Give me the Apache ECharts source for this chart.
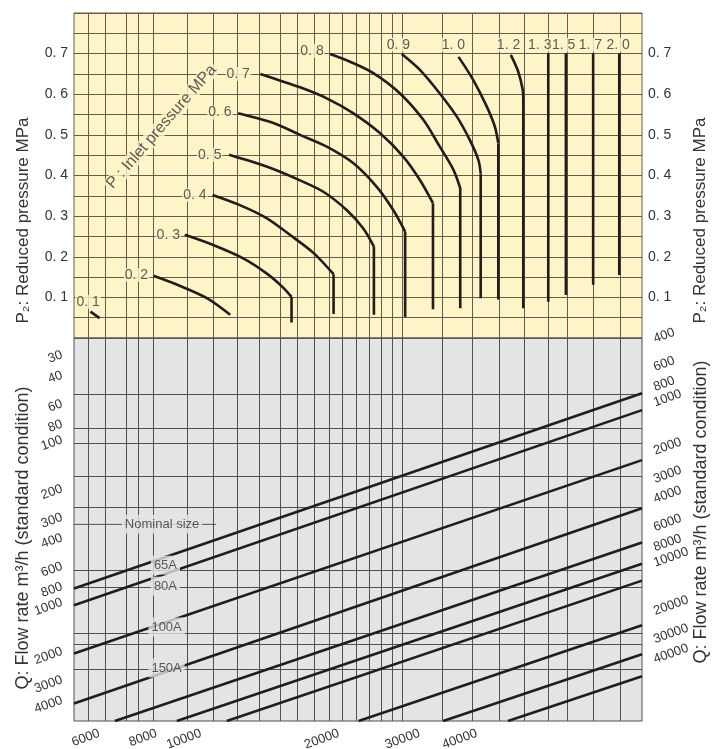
<!DOCTYPE html>
<html>
<head>
<meta charset="utf-8">
<script src="https://cdn.jsdelivr.net/npm/echarts@6.0.0/dist/echarts.min.js"></script>
<style>
    html, body {margin: 0; padding: 0; background: #fff;}
    #chart_container {width: 713px; height: 749px;}
</style>
</head>
<body>
<div id="chart_container"></div>
<script>
"use strict";

// ---- upper chart: P2 (reduced pressure) against an unlabelled flow factor (0..100) ----
var p2Ticks = [0.1, 0.2, 0.3, 0.4, 0.5, 0.6, 0.7];
// vertical grid lines, in flow factor units
var factorLines = [2.5, 5.5, 9.2, 11.3, 13.9, 19.9, 24.5, 28.7, 32.6, 36.3, 39.3, 42.3, 44.9, 47.2,
    49.7, 51.9, 54.1, 56.0, 57.8, 64.8, 70.1, 74.8, 79.2, 83.5, 86.8, 91.4, 96.1];

// one curve per inlet pressure P1: [flow factor, P2]
var inletNames = ['0. 1', '0. 2', '0. 3', '0. 4', '0. 5', '0. 6', '0. 7', '0. 8', '0. 9', '1. 0',
    '1. 2', '1. 3', '1. 5', '1. 7', '2. 0'];
var arc01 = [[2.9, 0.065], [4.5, 0.049]];
var arc02 = [[14.0, 0.153], [18.7, 0.128], [23.4, 0.098], [27.5, 0.057]];
var arc03 = [[19.5, 0.254], [24.5, 0.229], [29.8, 0.196], [33.9, 0.159], [36.6, 0.127], [38.3, 0.101]];
var arc04 = [[24.4, 0.352], [29.2, 0.327], [33.9, 0.295], [38.0, 0.254], [42.2, 0.209], [45.7, 0.157]];
var arc05 = [[27.3, 0.451], [33.9, 0.422], [39.8, 0.388], [43.9, 0.360], [48.0, 0.315], [50.9, 0.270], [52.8, 0.225]];
var arc06 = [[28.9, 0.553], [35.1, 0.529], [39.8, 0.500], [44.5, 0.471], [49.2, 0.430], [53.3, 0.372], [56.2, 0.315], [58.3, 0.262]];
var arc07 = [[32.8, 0.650], [39.8, 0.617], [44.5, 0.590], [49.2, 0.553], [53.9, 0.504], [58.0, 0.446], [60.9, 0.389], [63.2, 0.332]];
var arc08 = [[45.1, 0.699], [48.6, 0.680], [52.7, 0.652], [57.4, 0.602], [61.5, 0.537], [64.4, 0.471], [66.8, 0.414], [68.0, 0.369]];
var arc09 = [[57.7, 0.699], [60.9, 0.660], [64.4, 0.602], [67.4, 0.545], [69.7, 0.487], [71.2, 0.438], [71.6, 0.405]];
var arc10 = [[67.7, 0.692], [70.3, 0.635], [72.7, 0.569], [74.1, 0.520], [74.7, 0.479]];
var arc12 = [[76.9, 0.697], [78.2, 0.656], [79.0, 0.611], [79.1, 0.586]];
var arc13 = [[83.5, 0.701]];
var arc15 = [[86.6, 0.701]];
var arc17 = [[91.4, 0.701]];
var arc20 = [[96.0, 0.701]];
var arcs = [arc01, arc02, arc03, arc04, arc05, arc06, arc07, arc08, arc09, arc10, arc12, arc13, arc15, arc17, arc20];
// P2 where the vertical (choked) part of each curve ends
var tailEnd = [null, null, 0.038, 0.059, 0.057, 0.052, 0.071, 0.073, 0.098, 0.095, 0.073, 0.089, 0.106, 0.131, 0.155];
// where the P1 labels sit
var inletLabelPos = [[2.5, 0.089], [11.0, 0.155], [16.6, 0.254], [21.3, 0.352], [23.9, 0.451], [25.7, 0.555],
    [28.9, 0.650], [41.9, 0.707], [57.1, 0.722], [66.8, 0.722], [76.5, 0.722], [82.0, 0.722], [86.2, 0.722],
    [90.9, 0.722], [95.8, 0.722]];

// ---- lower chart: flow rate Q (oblique log scale) ----
var qLeftTicks = [30, 40, 60, 80, 100, 200, 300, 400, 600, 800, 1000, 2000, 3000, 4000];
var qRightTicks = [400, 600, 800, 1000, 2000, 3000, 4000, 6000, 8000, 10000, 20000, 30000, 40000];
var qBottomTicks = [6000, 8000, 10000, 20000, 30000, 40000];
// horizontal grid lines, read on the left Q scale
var qGridLines = [53, 85, 105, 168, 261, 637, 811, 1557, 1819, 2593];
// nominal size lines: [start, end] as [flow factor, Q on left scale]
var sizeLines = [
    [[0, 826], [100, 52]],
    [[0, 1047], [100, 66]],
    [[0, 2076], [100, 134]],
    [[0, 4217], [100, 265]],
    [[7.2, 5400], [100, 431]],
    [[18.1, 5400], [100, 581]],
    [[26.9, 5400], [100, 739]],
    [[50.1, 5400], [100, 1390]],
    [[65.0, 5400], [100, 2096]],
    [[76.4, 5400], [100, 2864]]
];
var sizeNames = ['Nominal size', '65A', '80A', '100A', '150A'];
var sizeLabelPos = [[15.5, 333], [16.1, 594], [16.1, 799], [16.3, 1424], [16.3, 2546]];

var yellow = '#fdf5c8', grey = '#e4e4e4', ink = '#221d18', txt = '#333333';
var topGridColor = '#655c4c', lowGridColor = '#505050';

var myChart = echarts.init(document.getElementById('chart_container'));

var series = [];
for (var i = 0; i < arcs.length; i++) {
    var arc = arcs[i];
    if (arc.length > 1) {
        series.push({
            type: 'line', xAxisIndex: 0, yAxisIndex: 0, data: arc, smooth: 0.3,
            symbol: 'none', silent: true, z: 3,
            lineStyle: {color: ink, width: 2.6}
        });
    }
    if (tailEnd[i] !== null) {
        var last = arc[arc.length - 1];
        series.push({
            type: 'line', xAxisIndex: 0, yAxisIndex: 0, data: [last, [last[0], tailEnd[i]]],
            symbol: 'none', silent: true, z: 3,
            lineStyle: {color: ink, width: 2.6}
        });
    }
}
series.push({
    type: 'scatter', xAxisIndex: 0, yAxisIndex: 0, symbolSize: 0, z: 5, silent: true,
    data: inletLabelPos,
    label: {
        show: true, position: 'inside', color: txt, fontSize: 14,
        backgroundColor: yellow, padding: [0, 1],
        formatter: function (p) {
            return inletNames[p.dataIndex];
        }
    }
});
series.push({
    type: 'scatter', xAxisIndex: 0, yAxisIndex: 0, symbolSize: 0, z: 5, silent: true,
    data: [[15.4, 0.52]],
    label: {
        show: true, position: 'inside', color: txt, fontSize: 16, rotate: 49,
        backgroundColor: yellow, padding: [0, 2],
        formatter: 'P : Inlet pressure MPa'
    }
});

for (var k = 0; k < sizeLines.length; k++) {
    series.push({
        type: 'line', xAxisIndex: 1, yAxisIndex: 2, data: sizeLines[k],
        symbol: 'none', silent: true, z: 3,
        lineStyle: {color: ink, width: 2.6}
    });
}
// leader line of "Nominal size"
series.push({
    type: 'line', xAxisIndex: 1, yAxisIndex: 2, data: [[0, 333], [25, 333]],
    symbol: 'none', silent: true, z: 2,
    lineStyle: {color: lowGridColor, width: 1}
});
series.push({
    type: 'scatter', xAxisIndex: 1, yAxisIndex: 2, symbolSize: 0, z: 5, silent: true,
    data: sizeLabelPos,
    label: {
        show: true, position: 'inside', color: txt, fontSize: 13,
        backgroundColor: grey, padding: [3, 3],
        formatter: function (p) {
            return sizeNames[p.dataIndex];
        }
    }
});

function plain(v) {
    return String(Math.round(v));
}

var hiddenX = function (grid, pos) {
    return {
        type: 'value', gridIndex: grid, position: pos, min: 0, max: 100,
        axisLine: {show: false}, axisLabel: {show: false},
        axisTick: {show: false, customValues: factorLines},
        splitLine: {show: true, lineStyle: {color: grid === 0 ? topGridColor : lowGridColor, width: 1}}
    };
};

var option = {
    animation: false,
    textStyle: {fontFamily: 'Liberation Sans, Arial, sans-serif'},
    grid: [
        {left: 74, top: 13, width: 568, height: 325, show: true, backgroundColor: yellow,
            borderColor: topGridColor, borderWidth: 1, outerBoundsMode: 'none'},
        {left: 74, top: 338, width: 568, height: 383, show: true, backgroundColor: grey,
            borderColor: lowGridColor, borderWidth: 1, outerBoundsMode: 'none'}
    ],
    xAxis: [
        hiddenX(0, 'bottom'),
        hiddenX(1, 'top'),
        {
            type: 'log', gridIndex: 1, position: 'bottom', min: 5282, max: 91800,
            axisLine: {show: false}, axisTick: {show: false}, splitLine: {show: false},
            axisLabel: {customValues: qBottomTicks, rotate: 20, margin: 12, fontSize: 13, color: txt, formatter: plain}
        }
    ],
    yAxis: [
        {
            type: 'value', gridIndex: 0, position: 'left', min: 0, max: 0.8, interval: 0.05,
            axisLine: {show: false}, axisTick: {show: false},
            splitLine: {show: true, lineStyle: {color: topGridColor, width: 1}},
            axisLabel: {customValues: p2Ticks, fontSize: 14, color: txt, margin: 6,
                formatter: function (v) { return v.toFixed(1).replace('.', '. '); }},
            name: 'P\u2082: Reduced pressure MPa', nameLocation: 'middle', nameRotate: 90, nameGap: 42,
            nameMoveOverlap: false,
            nameTextStyle: {fontSize: 17, color: txt, padding: [0, 90, 0, 0]}
        },
        {
            type: 'value', gridIndex: 0, position: 'right', min: 0, max: 0.8, interval: 0.05,
            axisLine: {show: false}, axisTick: {show: false}, splitLine: {show: false},
            axisLabel: {customValues: p2Ticks, fontSize: 14, color: txt, margin: 6,
                formatter: function (v) { return v.toFixed(1).replace('.', '. '); }},
            name: 'P\u2082: Reduced pressure MPa', nameLocation: 'middle', nameRotate: 90, nameGap: 50,
            nameMoveOverlap: false,
            nameTextStyle: {fontSize: 17, color: txt, padding: [0, 90, 0, 0]}
        },
        {
            type: 'log', gridIndex: 1, position: 'left', inverse: true, min: 23.75, max: 5400,
            axisLine: {show: false},
            axisTick: {show: false, customValues: qGridLines},
            splitLine: {show: true, lineStyle: {color: lowGridColor, width: 1}},
            axisLabel: {customValues: qLeftTicks, rotate: 20, margin: 12, fontSize: 13, color: txt, formatter: plain},
            name: 'Q: Flow rate m\u00b3/h (standard condition)', nameLocation: 'middle', nameRotate: 90, nameGap: 42,
            nameMoveOverlap: false,
            nameTextStyle: {fontSize: 18, color: txt, padding: [0, 17, 0, 0]}
        },
        {
            type: 'log', gridIndex: 1, position: 'right', inverse: true, min: 392, max: 96100,
            axisLine: {show: false}, axisTick: {show: false}, splitLine: {show: false},
            axisLabel: {customValues: qRightTicks, rotate: 20, margin: 12, fontSize: 13, color: txt, formatter: plain},
            name: 'Q: Flow rate m\u00b3/h (standard condition)', nameLocation: 'middle', nameRotate: 90, nameGap: 50,
            nameMoveOverlap: false,
            nameTextStyle: {fontSize: 18, color: txt, padding: [0, 0, 0, 35]}
        }
    ],
    series: series
};

myChart.setOption(option);
</script>
</body>
</html>
